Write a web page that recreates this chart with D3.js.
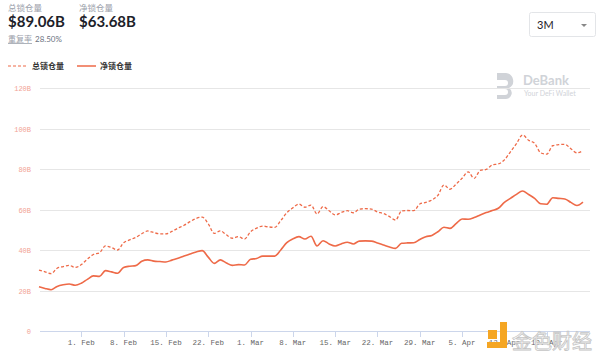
<!DOCTYPE html>
<html>
<head>
<meta charset="utf-8">
<script src="https://cdn.jsdelivr.net/npm/d3@7"></script>
<style>
  body { margin: 0; background: #fff; }
  svg { display: block; }
</style>
</head>
<body>
<svg id="chart" width="600" height="360"></svg>
<script>
// Daily TVL in billions USD, 2021-01-25 .. 2021-04-25
const startDate = new Date(2021, 0, 25);
const totalLocked = [
  30.1, 29.2, 28.3, 31.0, 31.8, 32.4, 31.4, 32.8, 35.5, 37.8,
  38.6, 42.0, 41.2, 40.0, 43.6, 45.0, 46.2, 48.0, 49.4, 48.6,
  48.0, 48.0, 49.2, 50.8, 52.2, 54.0, 55.6, 56.2, 53.0, 48.2,
  49.4, 47.5, 45.8, 46.6, 45.4, 49.0, 50.8, 51.8, 51.4, 51.2,
  54.5, 58.4, 60.8, 62.7, 61.1, 62.2, 57.8, 61.4, 59.4, 57.3,
  58.5, 59.4, 58.4, 60.2, 60.4, 60.2, 58.8, 58.0, 56.5, 54.8,
  59.3, 59.5, 59.4, 62.7, 63.5, 64.7, 67.0, 72.1, 70.0, 72.5,
  75.4, 78.6, 75.4, 79.3, 79.8, 82.0, 82.5, 84.5, 88.5, 92.5,
  96.8, 94.2, 92.7, 88.0, 87.3, 91.5, 92.0, 92.2, 90.0, 88.0,
  89.06
];
const netLocked = [
  21.9, 21.0, 20.4, 22.0, 22.8, 23.2, 22.6, 23.6, 25.5, 27.2,
  27.0, 29.8, 29.2, 28.5, 31.4, 32.0, 32.3, 34.4, 35.1, 34.5,
  34.3, 34.1, 35.0, 35.9, 37.0, 38.0, 39.0, 39.7, 36.5, 33.4,
  35.1, 33.6, 32.4, 32.8, 32.6, 35.4, 35.8, 37.0, 37.0, 37.0,
  40.0, 43.6, 45.5, 46.6, 45.4, 46.8, 42.0, 44.6, 43.0, 42.0,
  43.0, 43.8, 43.0, 44.4, 44.5, 44.4, 43.5, 42.5, 41.5, 40.8,
  43.3, 43.5, 43.6, 45.2, 46.6, 47.2, 49.0, 51.2, 50.7, 53.0,
  55.3, 55.2, 56.0, 57.3, 58.5, 59.5, 60.6, 63.5, 65.5, 67.5,
  69.1, 67.4, 65.5, 62.8, 62.6, 65.8, 65.5, 65.2, 63.5, 62.0,
  63.68
];
const yTicks = [0, 20, 40, 60, 80, 100, 120];
const seriesNames = ["总锁仓量", "净锁仓量"];
const summary = { total: "$89.06B", net: "$63.68B", dupRate: "28.50%" };

const lineColor = "#ee6a48";

const svg = d3.select("#chart");

const dates = totalLocked.map((_, i) => d3.timeDay.offset(startDate, i));

const x = d3.scaleTime()
  .domain([startDate, new Date(2021, 3, 26)])
  .range([39, 589]);
const y = d3.scaleLinear().domain([0, 120]).range([331, 88]);

// header
const cjk = "'Noto Sans CJK SC', 'Noto Sans', sans-serif";
svg.append("text").attr("x", 8).attr("y", 11).attr("font-family", cjk)
  .attr("font-size", 8.5).attr("fill", "#9aa0aa").text(seriesNames[0]);
svg.append("text").attr("x", 79).attr("y", 11).attr("font-family", cjk)
  .attr("font-size", 8.5).attr("fill", "#9aa0aa").text(seriesNames[1]);
svg.append("text").attr("x", 8).attr("y", 27).attr("font-family", "Lato, sans-serif")
  .attr("font-weight", "bold").attr("font-size", 15).attr("fill", "#1d2129").text(summary.total);
svg.append("text").attr("x", 79).attr("y", 27).attr("font-family", "Lato, sans-serif")
  .attr("font-weight", "bold").attr("font-size", 15).attr("fill", "#1d2129").text(summary.net);
svg.append("text").attr("x", 8).attr("y", 42).attr("font-family", cjk)
  .attr("font-size", 8).attr("fill", "#9aa0aa").attr("text-decoration", "underline").text("重复率");
svg.append("text").attr("x", 35).attr("y", 42).attr("font-family", "Lato, sans-serif")
  .attr("font-size", 8).attr("fill", "#6b7280").text(summary.dupRate);

// period dropdown
svg.append("rect").attr("x", 529.5).attr("y", 12.5).attr("width", 66).attr("height", 24)
  .attr("rx", 2).attr("fill", "#fff").attr("stroke", "#e3e5e8");
svg.append("text").attr("x", 537).attr("y", 29).attr("font-family", "Lato, sans-serif")
  .attr("font-size", 11).attr("fill", "#1d2129").text("3M");
svg.append("path").attr("d", "M581,24 L587,24 L584,27 Z").attr("fill", "#888");

// legend
const legend = svg.append("g").attr("font-family", cjk).attr("font-size", 8)
  .attr("font-weight", "bold").attr("fill", "#333");
legend.append("line").attr("x1", 8).attr("x2", 27).attr("y1", 66).attr("y2", 66)
  .attr("stroke", lineColor).attr("stroke-width", 1.2).attr("stroke-dasharray", "3,2");
legend.append("text").attr("x", 32).attr("y", 69).text(seriesNames[0]);
legend.append("line").attr("x1", 77).attr("x2", 96).attr("y1", 66).attr("y2", 66)
  .attr("stroke", lineColor).attr("stroke-width", 1.5);
legend.append("text").attr("x", 100).attr("y", 69).text(seriesNames[1]);

// DeBank watermark
const wm = svg.append("g").attr("fill", "#d0d3d8");
wm.append("path").attr("d", "M497,73 h9 a8,8 0 0 1 3,15 a6,6 0 0 1 -3,11 h-9 v-4 h8 a3,3 0 0 0 0,-6 h-8 v-3 h8 a3,3 0 0 0 0,-6 h-8 z");
wm.append("text").attr("x", 523).attr("y", 85).attr("font-family", "Lato, sans-serif")
  .attr("font-weight", "bold").attr("font-size", 13).text("DeBank");
wm.append("text").attr("x", 524).attr("y", 96).attr("font-family", "Lato, sans-serif")
  .attr("font-size", 7).text("Your DeFi Wallet");

// gridlines + y labels
svg.append("g").selectAll("line").data(yTicks.slice(1)).join("line")
  .attr("x1", 40).attr("x2", 590)
  .attr("y1", d => Math.round(y(d)) + 0.5).attr("y2", d => Math.round(y(d)) + 0.5)
  .attr("stroke", "#e6e6e6");
svg.append("g").selectAll("text").data(yTicks).join("text")
  .attr("x", 31).attr("y", d => y(d) + 3).attr("text-anchor", "end")
  .attr("font-family", "'Liberation Mono', monospace").attr("font-size", 7)
  .attr("fill", "#f2a394")
  .text(d => d === 0 ? "0" : d + "B");

// x axis, weekly ticks on Mondays
const mondays = d3.timeMonday.range(new Date(2021, 0, 31), new Date(2021, 3, 20));
svg.append("line").attr("x1", 40).attr("x2", 590).attr("y1", 331.5).attr("y2", 331.5)
  .attr("stroke", "#ccd6eb");
const xa = svg.append("g");
xa.selectAll("line").data(mondays).join("line")
  .attr("x1", d => Math.round(x(d)) + 0.5).attr("x2", d => Math.round(x(d)) + 0.5)
  .attr("y1", 331).attr("y2", 337).attr("stroke", "#ccd6eb");
xa.selectAll("text").data(mondays).join("text")
  .attr("x", d => x(d)).attr("y", 345).attr("text-anchor", "middle")
  .attr("font-family", "'Liberation Mono', monospace").attr("font-size", 7.5)
  .attr("fill", "#666")
  .text(d3.timeFormat("%-d. %b"));

// series
const line = d3.line().x((d, i) => x(dates[i])).y(d => y(d)).curve(d3.curveMonotoneX);
svg.append("path").datum(totalLocked).attr("d", line).attr("fill", "none")
  .attr("stroke", lineColor).attr("stroke-width", 1.3).attr("stroke-dasharray", "3,2");
svg.append("path").datum(netLocked).attr("d", line).attr("fill", "none")
  .attr("stroke", lineColor).attr("stroke-width", 1.6);

// source watermark
const jw = svg.append("g");
jw.append("rect").attr("x", 488).attr("y", 330).attr("width", 9).attr("height", 9).attr("fill", "#f5a623");
jw.append("path").attr("d", "M500,322 h7 v26 h-20 v-6 h13 z").attr("fill", "#f5a623");
jw.append("text").attr("x", 512).attr("y", 349).attr("font-family", cjk)
  .attr("font-size", 20).attr("fill", "#fff").attr("stroke", "#c4c4c4").attr("stroke-width", 0.8)
  .text("金色财经");
</script>
</body>
</html>
